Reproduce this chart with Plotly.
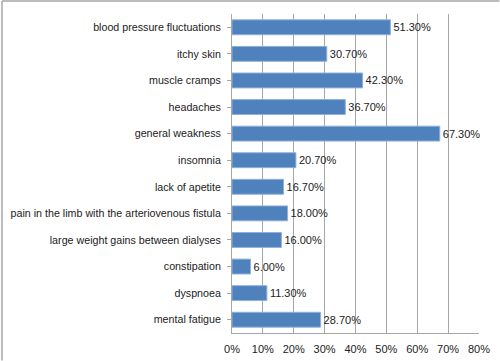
import plotly.graph_objects as go

categories = [
    "blood pressure fluctuations",
    "itchy skin",
    "muscle cramps",
    "headaches",
    "general weakness",
    "insomnia",
    "lack of apetite",
    "pain in the limb with the arteriovenous fistula",
    "large weight gains between dialyses",
    "constipation",
    "dyspnoea",
    "mental fatigue",
]
values = [51.3, 30.7, 42.3, 36.7, 67.3, 20.7, 16.7, 18.0, 16.0, 6.0, 11.3, 28.7]
tick_vals = [0, 10, 20, 30, 40, 50, 60, 70, 80]
tick_text = ["0%", "10%", "20%", "30%", "40%", "50%", "60%", "70%", "80%"]

FONT = "Liberation Sans"

fig = go.Figure(go.Bar(
    x=values,
    y=categories,
    orientation="h",
    marker=dict(color="#4F81BD", line=dict(color="#8FB0DA", width=1)),
    text=[f"{v:.2f}%" for v in values],
    textposition="outside",
    textfont=dict(family=FONT, size=11, color="#222222"),
    cliponaxis=False,
))

L, R, T, B = 231.5, 479, 14, 333.5
W, H = 500, 361

fig.update_layout(
    width=W, height=H,
    margin=dict(l=L, r=W - R, t=T, b=H - B, pad=0),
    paper_bgcolor="white",
    plot_bgcolor="white",
    showlegend=False,
    bargap=0.44,
    font=dict(family=FONT, size=11, color="#222222"),
    xaxis=dict(
        range=[0, 80],
        tickvals=tick_vals,
        ticktext=tick_text,
        showgrid=True,
        gridcolor="#A6A6A6",
        gridwidth=1,
        showline=True,
        linecolor="#A6A6A6",
        linewidth=1,
        zeroline=False,
        ticks="outside",
        ticklen=6,
        tickcolor="rgba(0,0,0,0)",
        tickfont=dict(family=FONT, size=11, color="#222222"),
        automargin=False,
        fixedrange=True,
    ),
    yaxis=dict(
        autorange="reversed",
        showline=True,
        linecolor="#A6A6A6",
        linewidth=1,
        ticks="outside",
        ticklen=4,
        tickcolor="#A6A6A6",
        showgrid=False,
        tickfont=dict(family=FONT, size=10.7, color="#222222"),
        ticklabelstandoff=4,
        automargin=False,
        fixedrange=True,
    ),
    shapes=[
        dict(type="line", xref="paper", yref="paper",
             x0=(1 - L) / (R - L), x1=(499.5 - L) / (R - L),
             y0=(B - 1) / (B - T), y1=(B - 1) / (B - T),
             line=dict(color="#A6A6A6", width=1.5)),
        dict(type="line", xref="paper", yref="paper",
             x0=(1 - L) / (R - L), x1=(1 - L) / (R - L),
             y0=(B - 1) / (B - T), y1=(B - 361) / (B - T),
             line=dict(color="#A6A6A6", width=1.5)),
    ],
)

fig.write_html(
    "out.html",
    config={"displayModeBar": False},
    post_script="document.body.style.margin='0';document.body.style.overflow='hidden';",
)
